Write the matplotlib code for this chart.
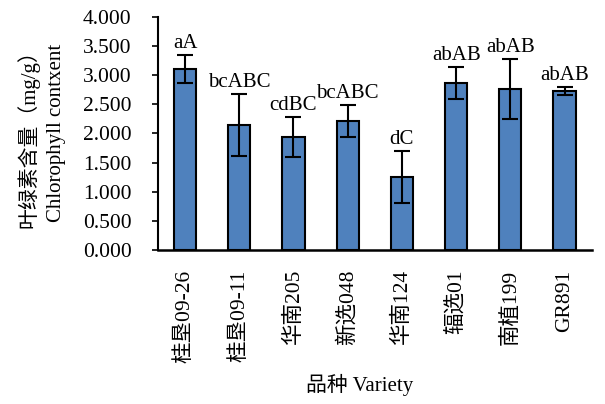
import matplotlib
matplotlib.use("Agg")
import matplotlib.pyplot as plt
import numpy as np

plt.rcParams['font.family'] = ['Liberation Serif', 'Noto Sans CJK SC']
plt.rcParams['axes.unicode_minus'] = False

# 品种、叶绿素含量均值、标准差、显著性字母
varieties = ['桂垦09-26', '桂垦09-11', '华南205', '新选048',
             '华南124', '辐选01', '南植199', 'GR891']
chl_mean = [3.10, 2.14, 1.94, 2.21, 1.25, 2.86, 2.76, 2.73]
chl_err = [0.24, 0.53, 0.34, 0.27, 0.44, 0.28, 0.51, 0.07]
sig_labels = ['aA', 'bcABC', 'cdBC', 'bcABC', 'dC', 'abAB', 'abAB', 'abAB']
y_ticks = [0.0, 0.5, 1.0, 1.5, 2.0, 2.5, 3.0, 3.5, 4.0]

fig = plt.figure(figsize=(6.05, 4.04), dpi=100)
ax = fig.add_axes([0.261, 0.381, 0.717, 0.578])

x = np.arange(len(varieties))
ax.bar(x, chl_mean, width=0.41, color='#4F81BD', edgecolor='black',
       linewidth=1.5, zorder=2)
ax.errorbar(x, chl_mean, yerr=chl_err, fmt='none', ecolor='black',
            elinewidth=1.5, capsize=6, capthick=1.5, zorder=3)

# 显著性字母标在误差线上方
for xi, m, e, s in zip(x, chl_mean, chl_err, sig_labels):
    ax.annotate(s, (xi, m + e), xytext=(0, 5), textcoords='offset points',
                ha='center', va='baseline', fontsize=15)

ax.set_xlim(-0.5, len(varieties) - 0.5)
ax.set_ylim(0, 4.0)
ax.set_yticks(y_ticks)
ax.set_yticklabels(['%.3f' % v for v in y_ticks], fontsize=15.5)
ax.set_xticks(x)
ax.set_xticklabels(varieties, rotation=90, fontsize=15.5, va='top')

ax.tick_params(axis='y', direction='out', length=4, width=1.2, pad=15)
ax.tick_params(axis='x', length=0, pad=14)

for side in ['top', 'right']:
    ax.spines[side].set_visible(False)
ax.spines['left'].set_linewidth(1.5)
ax.spines['bottom'].set_linewidth(1.8)

ax.set_ylabel('叶绿素含量（mg/g）\nChlorophyll contxent', fontsize=15,
              linespacing=1.55)
ax.yaxis.set_label_coords(-0.212, 0.5)
ax.set_xlabel('品种 Variety', fontsize=15)
ax.xaxis.set_label_coords(0.465, -0.53)

fig.savefig('out.png', dpi=100)
